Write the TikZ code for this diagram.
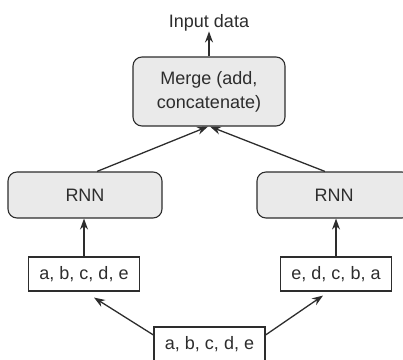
\documentclass[tikz,border=0pt]{standalone}
\usepackage{fontspec}
\setmainfont{Liberation Sans}
\definecolor{boxgray}{RGB}{234,234,234}
\definecolor{linegray}{RGB}{45,45,45}
\usetikzlibrary{arrows.meta,positioning}

\begin{document}
\begin{tikzpicture}[>={Stealth[length=11pt,width=8pt]},line width=1.3pt,
  every node/.style={font=\fontsize{18}{24}\selectfont,align=center,text=linegray},
  block/.style={draw=linegray, fill=boxgray, rounded corners=9pt, line width=1.1pt},
  seqbox/.style={draw=linegray, fill=white, line width=1.1pt, minimum width=111pt, minimum height=34pt}]

\useasboundingbox (0,0) rectangle (403pt,-359pt);

% Bloques
\node[block, minimum width=152pt, minimum height=69pt] (merge) at (209pt,-91.5pt) {Merge (add,\\concatenate)};
\node[above=25pt of merge, inner sep=0pt] (input) {Input data};
\node[block, minimum width=154pt, minimum height=46pt] (rnnL) at (85pt,-195pt) {RNN};
\node[block, minimum width=154pt, minimum height=46pt] (rnnR) at (334pt,-195pt) {RNN};

% Secuencias
\node[seqbox] (seqL) at (84pt,-274pt) {a, b, c, d, e};
\node[seqbox] (seqR) at (336pt,-274pt) {e, d, c, b, a};
\node[seqbox] (data) at (209.5pt,-344pt) {a, b, c, d, e};

% Flechas
\draw[->,linegray] (merge) -- (input);
\draw[->,linegray] ([xshift=12pt]rnnL.north) -- ([xshift=-1pt]merge.south);
\draw[->,linegray] ([xshift=-9pt]rnnR.north) -- ([xshift=1pt]merge.south);
\draw[->,linegray] (seqL.north) -- (seqL.north |- rnnL.south);
\draw[->,linegray] (seqR.north) -- (seqR.north |- rnnR.south);
\draw[->,linegray] ([yshift=9pt]data.west) -- ([xshift=10pt,yshift=-6pt]seqL.south);
\draw[->,linegray] ([yshift=9pt]data.east) -- ([xshift=-13pt,yshift=-4pt]seqR.south);

\end{tikzpicture}
\end{document}
